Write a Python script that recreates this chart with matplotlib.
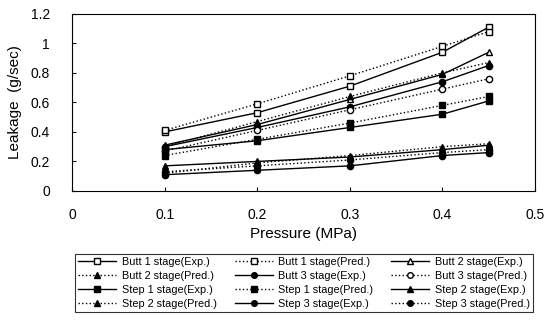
import matplotlib
matplotlib.use("Agg")
import matplotlib.pyplot as plt

plt.rcParams['font.family'] = ['Liberation Sans', 'DejaVu Sans']

pressure = [0.1, 0.2, 0.3, 0.4, 0.45]

butt1_exp = [0.40, 0.53, 0.71, 0.94, 1.11]
butt1_pred = [0.41, 0.59, 0.78, 0.98, 1.08]
butt2_exp = [0.31, 0.45, 0.62, 0.79, 0.94]
butt2_pred = [0.30, 0.47, 0.64, 0.80, 0.87]
butt3_exp = [0.30, 0.43, 0.57, 0.74, 0.85]
butt3_pred = [0.27, 0.41, 0.55, 0.69, 0.76]
step1_exp = [0.28, 0.34, 0.43, 0.52, 0.61]
step1_pred = [0.24, 0.35, 0.46, 0.58, 0.64]
step2_exp = [0.17, 0.20, 0.23, 0.28, 0.31]
step2_pred = [0.12, 0.19, 0.24, 0.30, 0.32]
step3_exp = [0.11, 0.14, 0.17, 0.24, 0.26]
step3_pred = [0.13, 0.17, 0.21, 0.26, 0.28]

series = [
    ('Butt 1 stage(Exp.)', butt1_exp, '-', 's', 'white'),
    ('Butt 1 stage(Pred.)', butt1_pred, ':', 's', 'white'),
    ('Butt 2 stage(Exp.)', butt2_exp, '-', '^', 'white'),
    ('Butt 2 stage(Pred.)', butt2_pred, ':', '^', 'black'),
    ('Butt 3 stage(Exp.)', butt3_exp, '-', 'o', 'black'),
    ('Butt 3 stage(Pred.)', butt3_pred, ':', 'o', 'white'),
    ('Step 1 stage(Exp.)', step1_exp, '-', 's', 'black'),
    ('Step 1 stage(Pred.)', step1_pred, ':', 's', 'black'),
    ('Step 2 stage(Exp.)', step2_exp, '-', '^', 'black'),
    ('Step 2 stage(Pred.)', step2_pred, ':', '^', 'black'),
    ('Step 3 stage(Exp.)', step3_exp, '-', 'o', 'black'),
    ('Step 3 stage(Pred.)', step3_pred, ':', 'o', 'black'),
]

fig = plt.figure(figsize=(5.58, 3.22), dpi=100)
ax = fig.add_axes([0.129, 0.407, 0.830, 0.550])

handles = []
for label, vals, ls, mk, fc in series:
    h, = ax.plot(pressure, vals, linestyle=ls, marker=mk, color='black',
                 markerfacecolor=fc, markeredgecolor='black',
                 markersize=4.5, linewidth=1.0, label=label)
    handles.append(h)

ax.set_xlim(0, 0.5)
ax.set_ylim(0, 1.2)
ax.set_xticks([0, 0.1, 0.2, 0.3, 0.4, 0.5])
ax.set_xticklabels(['0', '0.1', '0.2', '0.3', '0.4', '0.5'])
ax.set_yticks([0, 0.2, 0.4, 0.6, 0.8, 1.0, 1.2])
ax.set_yticklabels(['0', '0.2', '0.4', '0.6', '0.8', '1', '1.2'])
ax.tick_params(direction='in', length=3, labelsize=10)
ax.tick_params(axis='x', pad=12)
ax.tick_params(axis='y', pad=16)
ax.set_xlabel('Pressure (MPa)', fontsize=11, labelpad=4)
ax.set_ylabel('Leakage  (g/sec)', fontsize=11, labelpad=6)

# legend is filled row by row in the original
order = [0, 3, 6, 9, 1, 4, 7, 10, 2, 5, 8, 11]
leg = fig.legend([handles[i] for i in order],
                 [series[i][0] for i in order],
                 loc='lower left', bbox_to_anchor=(0.125, 0.015, 0.84, 0.2),
                 mode='expand', ncol=3, fontsize=7.8, frameon=True,
                 fancybox=False, edgecolor='black', handlelength=3.5,
                 handletextpad=0.5, columnspacing=0.3, labelspacing=0.35,
                 borderpad=0.3, markerscale=0.9)
leg.get_frame().set_linewidth(0.8)

fig.savefig('out.png', dpi=100)
